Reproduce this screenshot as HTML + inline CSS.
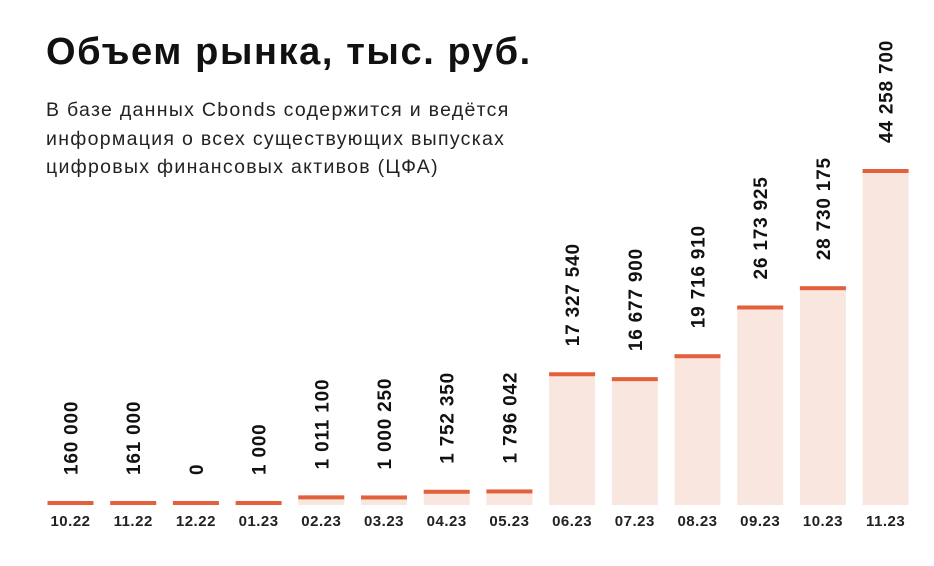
<!DOCTYPE html>
<html><head><meta charset="utf-8"><style>
body{margin:0;background:#fff;width:934px;height:566px;overflow:hidden;font-family:"Liberation Sans",sans-serif}
h1{position:absolute;left:46px;top:31px;margin:0;font-size:38px;font-weight:bold;color:#111;letter-spacing:1.6px}
p{position:absolute;left:46px;top:96px;margin:0;font-size:19.5px;line-height:28.5px;color:#222;width:600px;letter-spacing:1.3px}
</style></head><body>
<h1>Объем рынка, тыс. руб.</h1>
<p>В базе данных Cbonds содержится и ведётся<br>информация о всех существующих выпусках<br>цифровых финансовых активов (ЦФА)</p>
<svg id="chart" width="934" height="566" style="position:absolute;left:0;top:0"></svg>
<script>
const categories=["10.22","11.22","12.22","01.23","02.23","03.23","04.23","05.23","06.23","07.23","08.23","09.23","10.23","11.23"];
const values=[160000,161000,0,1000,1011100,1000250,1752350,1796042,17327540,16677900,19716910,26173925,28730175,44258700];
const valueLabels=["160 000","161 000","0","1 000","1 011 100","1 000 250","1 752 350","1 796 042","17 327 540","16 677 900","19 716 910","26 173 925","28 730 175","44 258 700"];
const NS="http://www.w3.org/2000/svg";
const svg=document.getElementById('chart');
const base=505, maxH=334, maxV=44258700, x0=70.5, step=62.7, bw=46;
const y=v=>base-v/maxV*maxH;
const x=i=>x0+i*step;
function mk(t,a){const e=document.createElementNS(NS,t);for(const k in a)e.setAttribute(k,a[k]);svg.appendChild(e);return e;}
categories.forEach((c,i)=>{
  const top=Math.min(y(values[i]),base-2);
  const r=mk('rect',{x:x(i)-bw/2,y:top,width:bw,height:base-top,fill:'#f9e6df'});
  
  
  const l=mk('rect',{x:x(i)-bw/2,y:top-2,width:bw,height:4,fill:'#e2603b'});
  
  
  const t=mk('text',{x:0,y:0,transform:`translate(${x(i)+7},${top-28}) rotate(-90)`,'font-size':19,'font-weight':'bold','letter-spacing':0.8,fill:'#111'});
  t.textContent=valueLabels[i];
  
  
  const xl=mk('text',{x:x(i),y:526,'text-anchor':'middle','font-size':15,'font-weight':'bold','letter-spacing':0.5,fill:'#222'});
  xl.textContent=c;
  
  
});
</script>
</body></html>
